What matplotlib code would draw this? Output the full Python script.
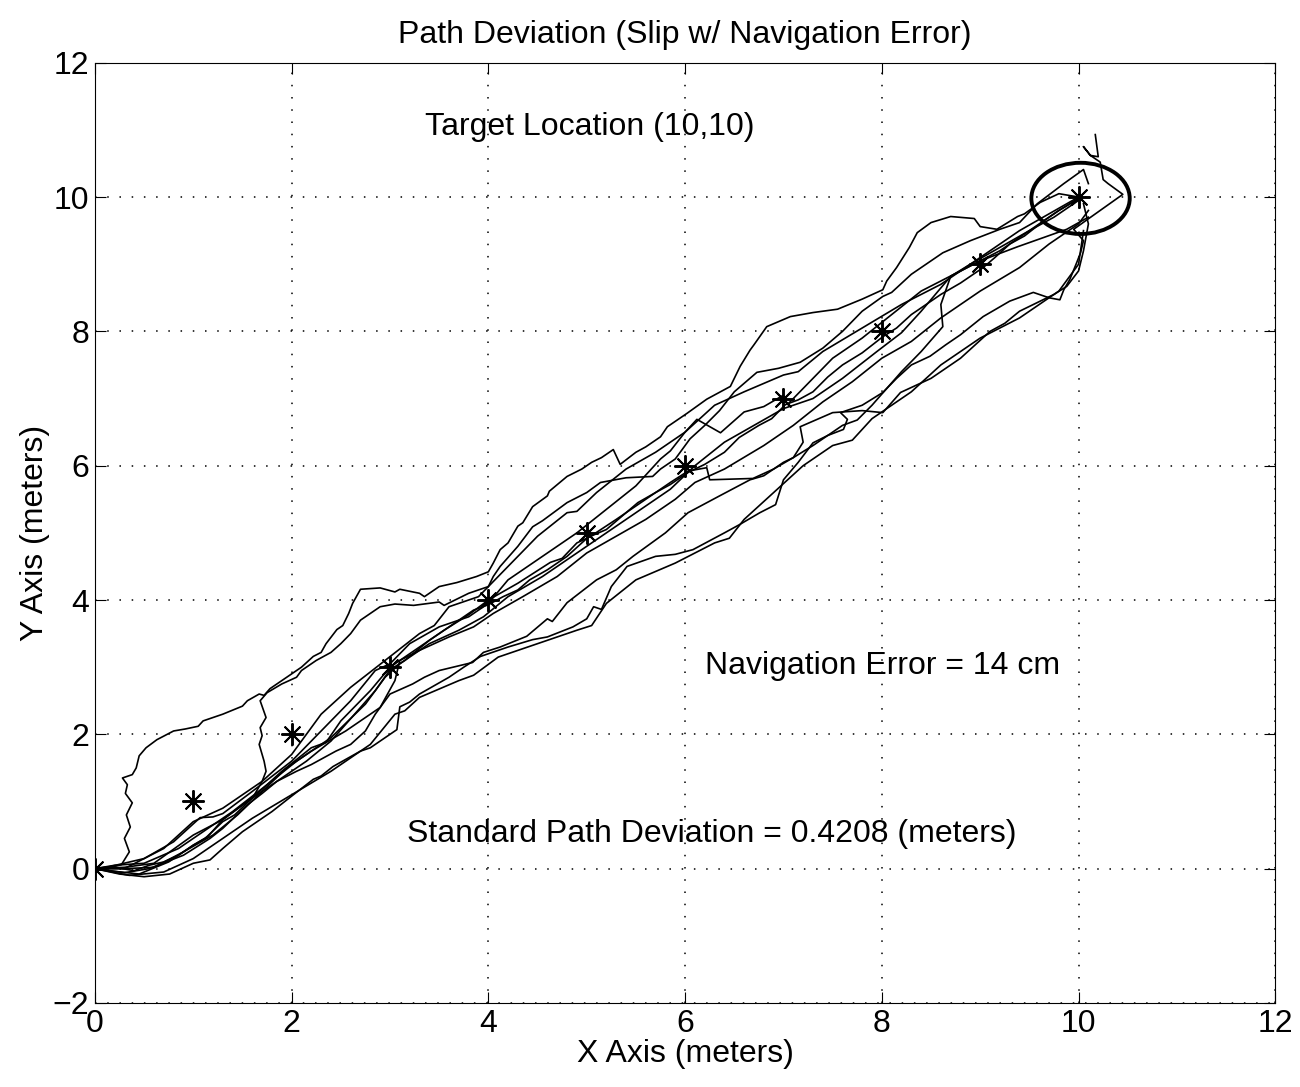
import matplotlib
matplotlib.use("Agg")
import matplotlib.pyplot as plt
from matplotlib.patches import Ellipse

plt.rcParams['font.family'] = ['Liberation Sans', 'DejaVu Sans']

# robot paths (meters)
p1_x = [0, 0.12, 0.22, 0.27, 0.35, 0.30, 0.36, 0.32, 0.38, 0.31, 0.33, 0.28, 0.38, 0.42, 0.45, 0.52, 0.63, 0.80,
        0.92, 1.05, 1.10, 1.30, 1.50, 1.55, 1.61, 1.67, 1.72, 1.78, 1.95, 2.10, 2.22, 2.30, 2.35, 2.46, 2.52, 2.58,
        2.62, 2.70, 2.90, 3.05, 3.10, 3.30, 3.35, 3.50, 3.68, 3.88, 4.00, 4.05, 4.12, 4.20, 4.30, 4.35, 4.45, 4.60,
        4.62, 4.80, 4.95, 5.05, 5.15, 5.27, 5.34, 5.50, 5.60, 5.75, 5.82, 6.02, 6.22, 6.46, 6.50, 6.56, 6.66, 6.70,
        6.83, 7.07, 7.30, 7.55, 7.80, 8.01, 8.05, 8.15, 8.28, 8.36, 8.50, 8.70, 8.94, 9.00, 9.17, 9.38, 9.45, 9.61,
        9.80, 10.0]
p1_y = [0, 0.02, 0.04, 0.06, 0.25, 0.45, 0.62, 0.80, 0.98, 1.12, 1.25, 1.35, 1.40, 1.50, 1.68, 1.80, 1.92, 2.05,
        2.08, 2.12, 2.20, 2.30, 2.42, 2.50, 2.55, 2.60, 2.58, 2.68, 2.85, 3.00, 3.16, 3.22, 3.35, 3.56, 3.62, 3.80,
        3.95, 4.16, 4.18, 4.12, 4.16, 4.10, 4.05, 4.20, 4.26, 4.35, 4.42, 4.55, 4.75, 4.85, 5.10, 5.15, 5.39, 5.55,
        5.62, 5.84, 5.95, 6.05, 6.12, 6.24, 6.02, 6.20, 6.28, 6.43, 6.58, 6.78, 6.99, 7.18, 7.30, 7.48, 7.72, 7.80,
        8.07, 8.22, 8.28, 8.33, 8.48, 8.62, 8.75, 8.95, 9.25, 9.47, 9.62, 9.71, 9.68, 9.56, 9.52, 9.71, 9.75, 9.92,
        10.05, 10.0]

p2_x = [0, 0.20, 0.45, 0.75, 1.00, 1.15, 1.30, 1.50, 1.61, 1.70, 1.74, 1.72, 1.67, 1.70, 1.68, 1.74, 1.68, 1.75,
        1.90, 2.05, 2.10, 2.25, 2.40, 2.50, 2.60, 2.70, 2.90, 3.05, 3.24, 3.50, 3.55, 3.80, 4.00, 4.05, 4.12, 4.30,
        4.45, 4.55, 4.80, 5.00, 5.14, 5.40, 5.67, 5.75, 5.90, 6.05, 6.20, 6.35, 6.50, 6.73, 6.95, 7.17, 7.40, 7.60,
        7.80, 8.01, 8.10, 8.30, 8.62, 8.90, 9.20, 9.40, 9.58, 9.85, 10.05, 10.10]
p2_y = [0, -0.04, -0.08, 0.10, 0.35, 0.48, 0.73, 0.95, 1.07, 1.30, 1.45, 1.60, 1.85, 1.98, 2.10, 2.25, 2.50, 2.62,
        2.75, 2.85, 2.95, 3.10, 3.22, 3.35, 3.50, 3.70, 3.90, 3.94, 3.92, 3.97, 3.92, 4.10, 4.20, 4.35, 4.50, 4.80,
        5.09, 5.18, 5.45, 5.60, 5.75, 5.82, 5.84, 5.95, 6.10, 6.40, 6.60, 6.82, 7.10, 7.39, 7.45, 7.54, 7.75, 8.00,
        8.30, 8.52, 8.58, 8.85, 9.17, 9.35, 9.52, 9.62, 9.90, 10.20, 10.41, 10.20]

p3_x = [0, 0.25, 0.50, 0.76, 1.00, 1.17, 1.30, 1.50, 1.80, 2.00, 2.22, 2.30, 2.42, 2.70, 2.80, 2.95, 3.07, 3.10,
        3.20, 3.30, 3.60, 3.75, 3.92, 4.20, 4.45, 4.60, 4.86, 5.00, 5.07, 5.15, 5.25, 5.41, 5.70, 5.90, 6.08, 6.40,
        6.55, 6.76, 6.92, 7.00, 7.15, 7.30, 7.45, 7.61, 7.65, 7.58, 7.80, 8.01, 8.15, 8.30, 8.49, 8.65, 8.80, 9.03,
        9.30, 9.54, 9.70, 9.81, 9.85, 9.91, 9.98, 10.02, 10.05, 9.95, 10.20, 10.45, 10.30, 10.25, 10.22, 10.12,
        10.05, 10.12, 10.20, 10.17]
p3_y = [0, -0.08, -0.12, -0.08, 0.08, 0.13, 0.30, 0.55, 0.85, 1.08, 1.33, 1.38, 1.52, 1.75, 1.80, 1.95, 2.07, 2.41,
        2.48, 2.60, 2.85, 3.00, 3.16, 3.30, 3.41, 3.45, 3.60, 3.72, 3.90, 3.86, 4.20, 4.50, 4.65, 4.68, 4.75, 5.00,
        5.12, 5.30, 5.42, 5.79, 6.05, 6.34, 6.45, 6.54, 6.69, 6.79, 6.90, 7.09, 7.30, 7.50, 7.63, 7.80, 7.95, 8.22,
        8.45, 8.58, 8.50, 8.47, 8.62, 8.77, 9.02, 9.17, 9.35, 9.52, 9.78, 10.04, 10.20, 10.26, 10.52, 10.62,
        10.75, 10.62, 10.60, 10.93]

p4_x = [0, 0.30, 0.55, 0.90, 1.17, 1.30, 1.55, 1.70, 1.85, 2.05, 2.20, 2.45, 2.60, 2.75, 2.85, 3.00, 3.23, 3.35,
        3.50, 3.84, 3.95, 4.12, 4.39, 4.60, 4.65, 4.80, 5.10, 5.30, 5.47, 5.80, 6.03, 6.35, 6.66, 6.80, 7.00, 7.10,
        7.20, 7.17, 7.50, 7.80, 8.01, 8.19, 8.50, 8.80, 9.10, 9.25, 9.40, 9.75, 9.88, 10.00, 10.05, 10.10, 10.05]
p4_y = [0, -0.06, 0.00, 0.20, 0.45, 0.60, 0.95, 1.12, 1.30, 1.45, 1.55, 1.75, 1.85, 2.05, 2.30, 2.60, 2.75, 2.85,
        2.95, 3.07, 3.22, 3.30, 3.46, 3.72, 3.68, 3.96, 4.30, 4.45, 4.65, 5.00, 5.30, 5.55, 5.79, 5.85, 6.05, 6.12,
        6.35, 6.58, 6.79, 6.82, 6.79, 7.09, 7.30, 7.60, 8.00, 8.12, 8.30, 8.55, 8.67, 8.90, 9.20, 9.60, 9.90]

p5_x = [0, 0.30, 0.60, 1.00, 1.30, 1.60, 1.90, 2.20, 2.35, 2.50, 2.80, 3.00, 3.25, 3.55, 3.80, 4.00, 4.30, 4.63,
        4.75, 4.90, 5.03, 5.30, 5.60, 5.85, 6.03, 6.22, 6.25, 6.69, 6.90, 7.10, 7.30, 7.60, 7.75, 7.90, 8.20, 8.40,
        8.62, 8.60, 8.70, 8.90, 9.20, 9.50, 9.75, 10.00]
p5_y = [0, 0.02, 0.08, 0.50, 0.73, 1.05, 1.45, 1.80, 1.88, 2.20, 2.65, 3.00, 3.25, 3.55, 3.78, 4.00, 4.25, 4.56,
        4.62, 4.85, 4.94, 5.20, 5.50, 5.75, 5.92, 5.97, 5.79, 5.81, 5.95, 6.12, 6.30, 6.60, 6.68, 6.90, 7.40, 7.70,
        8.07, 8.40, 8.82, 9.00, 9.25, 9.50, 9.70, 9.95]

p6_x = [0, 0.20, 0.40, 0.55, 0.70, 0.85, 1.00, 1.12, 1.30, 1.42, 1.60, 1.75, 2.00, 2.15, 2.40, 2.52, 2.70, 2.85,
        3.00, 3.15, 3.40, 3.50, 3.70, 3.85, 4.00, 4.15, 4.30, 4.42, 4.60, 4.80, 5.01, 5.20, 5.40, 5.52, 5.70, 5.85,
        6.03, 6.20, 6.40, 6.55, 6.75, 6.88, 7.02, 7.15, 7.30, 7.45, 7.60, 7.80, 8.01, 8.15, 8.30, 8.45, 8.60, 8.80,
        9.03, 9.15, 9.30, 9.45, 9.65, 9.80, 10.02]
p6_y = [0, 0.02, -0.03, 0.05, 0.10, 0.20, 0.35, 0.45, 0.70, 0.80, 1.05, 1.20, 1.45, 1.60, 1.90, 2.10, 2.40, 2.65,
        2.96, 3.10, 3.40, 3.50, 3.70, 3.85, 3.93, 4.05, 4.15, 4.30, 4.45, 4.65, 4.93, 5.05, 5.30, 5.45, 5.60, 5.72,
        5.90, 6.02, 6.20, 6.42, 6.60, 6.70, 6.91, 6.98, 7.10, 7.32, 7.50, 7.68, 7.92, 8.05, 8.25, 8.40, 8.55, 8.72,
        8.95, 9.10, 9.30, 9.42, 9.65, 9.80, 9.99]

p7_x = [0, 0.15, 0.50, 0.80, 1.07, 1.20, 1.30, 1.60, 2.00, 2.30, 2.60, 2.85, 3.00, 3.20, 3.50, 3.80, 4.00, 4.20,
        4.50, 4.90, 5.20, 5.50, 5.75, 5.85, 6.00, 6.12, 6.36, 6.60, 6.80, 7.00, 7.04, 7.30, 7.50, 7.80, 8.10, 8.40,
        8.80, 9.20, 9.50, 9.80, 10.02]
p7_y = [0, 0.03, 0.15, 0.40, 0.76, 0.77, 0.82, 1.15, 1.60, 2.05, 2.50, 2.95, 3.05, 3.35, 3.60, 3.75, 3.95, 4.30,
        4.60, 5.00, 5.35, 5.70, 6.10, 6.22, 6.50, 6.69, 6.49, 6.80, 6.88, 7.05, 6.91, 7.30, 7.60, 7.90, 8.25, 8.60,
        8.90, 9.20, 9.50, 9.80, 10.00]

p8_x = [0, 0.30, 0.60, 0.90, 1.20, 1.45, 1.70, 1.95, 2.20, 2.55, 2.90, 3.05, 3.10, 3.30, 3.60, 3.85, 4.05, 4.35,
        4.70, 5.00, 5.30, 5.60, 5.90, 6.10, 6.40, 6.80, 7.10, 7.40, 7.70, 8.00, 8.30, 8.60, 9.00, 9.40, 9.70, 10.00,
        10.10]
p8_y = [0, 0.00, 0.02, 0.25, 0.50, 0.80, 1.15, 1.50, 1.75, 2.05, 2.40, 2.80, 3.10, 3.25, 3.45, 3.60, 3.80, 4.05,
        4.35, 4.70, 4.95, 5.20, 5.50, 5.75, 5.95, 6.30, 6.60, 6.95, 7.25, 7.60, 7.85, 8.20, 8.60, 8.95, 9.30, 9.60,
        9.80]

p9_x = [0, 0.20, 0.50, 0.85, 1.15, 1.40, 1.75, 2.05, 2.40, 2.75, 2.95, 3.10, 3.40, 3.70, 3.95, 4.20, 4.55, 4.90,
        5.20, 5.55, 5.85, 6.10, 6.40, 6.70, 7.00, 7.30, 7.60, 7.95, 8.20, 8.40, 8.70, 9.00, 9.38, 9.65, 9.88, 10.10]
p9_y = [0, 0.05, 0.08, 0.30, 0.60, 0.85, 1.25, 1.60, 1.95, 2.45, 2.85, 3.05, 3.35, 3.55, 3.75, 4.05, 4.35, 4.70,
        5.00, 5.35, 5.65, 6.00, 6.35, 6.60, 6.85, 7.00, 7.30, 7.70, 7.98, 8.30, 8.82, 9.05, 9.26, 9.40, 9.52, 9.70]

p10_x = [0, 0.35, 0.70, 1.00, 1.30, 1.60, 2.00, 2.40, 2.80, 3.05, 3.15, 3.30, 3.70, 3.85, 4.10, 4.50, 4.90, 5.05,
         5.20, 5.50, 5.90, 6.30, 6.45, 6.60, 6.90, 7.20, 7.50, 7.70, 7.90, 8.30, 8.60, 9.00, 9.40, 9.80, 10.00, 10.05]
p10_y = [0, -0.10, -0.05, 0.15, 0.45, 0.75, 1.10, 1.45, 1.85, 2.30, 2.35, 2.55, 2.80, 2.88, 3.15, 3.35, 3.55,
         3.62, 3.95, 4.30, 4.55, 4.85, 4.92, 5.20, 5.60, 6.00, 6.30, 6.38, 6.70, 7.10, 7.50, 7.90, 8.20, 8.60,
         9.00, 9.50]

p11_x = [0, 0.30, 0.70, 1.00, 1.30, 1.70, 2.00, 2.30, 2.60, 2.95, 3.30, 3.45, 3.60, 3.90, 4.20, 4.50, 4.80, 4.90,
         5.10, 5.40, 5.70, 6.00, 6.30, 6.60, 7.00, 7.15, 7.40, 7.80, 8.20, 8.60, 9.00, 9.40, 9.70, 10.00]
p11_y = [0, 0.00, 0.30, 0.70, 0.90, 1.30, 1.70, 2.30, 2.70, 3.10, 3.50, 3.62, 3.90, 4.05, 4.50, 4.95, 5.30, 5.32,
         5.60, 5.95, 6.20, 6.50, 6.90, 7.10, 7.35, 7.40, 7.70, 8.05, 8.40, 8.70, 9.10, 9.50, 9.75, 10.00]

paths = [(p1_x, p1_y), (p2_x, p2_y), (p3_x, p3_y), (p4_x, p4_y), (p5_x, p5_y), (p6_x, p6_y),
         (p7_x, p7_y), (p8_x, p8_y), (p9_x, p9_y), (p10_x, p10_y), (p11_x, p11_y)]

# planned waypoints
wp_x = [0, 1, 2, 3, 4, 5, 6, 7, 8, 9, 10]
wp_y = [0, 1, 2, 3, 4, 5, 6, 7, 8, 9, 10]

fig = plt.figure(figsize=(13, 10.87), dpi=100)
ax = fig.add_axes([0.073, 0.0773, 0.908, 0.865])

for px, py in paths:
    ax.plot(px, py, color='black', linewidth=1.2)

ax.plot(wp_x, wp_y, linestyle='none', marker=(8, 2, 0), markersize=16, color='black',
        markeredgewidth=1.4)

ax.add_patch(Ellipse((10.02, 9.98), 1.0, 1.06, fill=False, edgecolor='black', linewidth=2.8))

ax.text(5.03, 11.05, 'Target Location (10,10)', fontsize=23, ha='center', va='center')
ax.text(8.01, 3.02, 'Navigation Error = 14 cm', fontsize=23, ha='center', va='center')
ax.text(6.27, 0.51, 'Standard Path Deviation = 0.4208 (meters)', fontsize=23, ha='center', va='center')

ax.set_xlim(0, 12)
ax.set_ylim(-2, 12)
ax.set_xticks(range(0, 13, 2))
ax.set_yticks(range(-2, 13, 2))
ax.grid(True, linestyle=(0, (1, 7)), color='black', linewidth=1.1)
ax.tick_params(direction='in', top=True, right=True, length=8, labelsize=23, pad=4)
ax.set_title('Path Deviation (Slip w/ Navigation Error)', fontsize=23, pad=14)
ax.set_xlabel('X Axis (meters)', fontsize=23, labelpad=0)
ax.set_ylabel('Y Axis (meters)', fontsize=23, labelpad=2)

fig.savefig('out.png')
